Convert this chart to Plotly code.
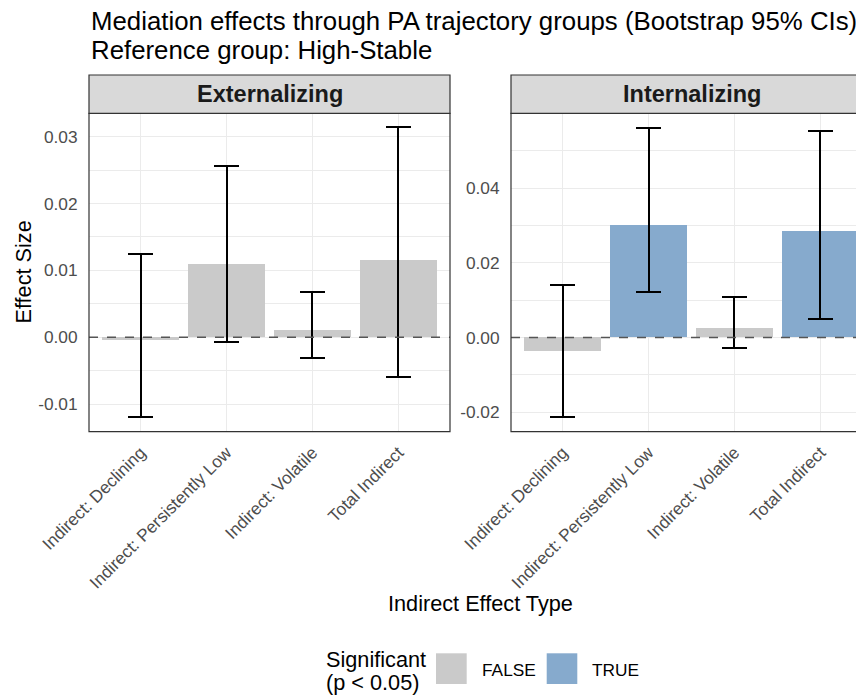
import plotly.graph_objects as go

# ---------------- data ----------------
categories = ["Indirect: Declining", "Indirect: Persistently Low",
              "Indirect: Volatile", "Total Indirect"]
panels = ["Externalizing", "Internalizing"]

ext_effect = [-0.0004, 0.0109, 0.0011, 0.0115]
ext_lower = [-0.0120, -0.0007, -0.0031, -0.0059]
ext_upper = [0.0124, 0.0256, 0.0068, 0.0314]
ext_sig = [False, False, False, False]

int_effect = [-0.0037, 0.0300, 0.0026, 0.0284]
int_lower = [-0.0214, 0.0122, -0.0027, 0.0049]
int_upper = [0.0142, 0.0562, 0.0110, 0.0554]
int_sig = [False, True, False, True]

ext_ticks = [-0.01, 0.0, 0.01, 0.02, 0.03]
ext_ticktext = ["-0.01", "0.00", "0.01", "0.02", "0.03"]
int_ticks = [-0.02, 0.0, 0.02, 0.04]
int_ticktext = ["-0.02", "0.00", "0.02", "0.04"]

title_lines = ["Mediation effects through PA trajectory groups (Bootstrap 95% CIs)",
               "Reference group: High-Stable"]
x_title = "Indirect Effect Type"
y_title = "Effect Size"
legend_title = ["Significant", "(p &lt; 0.05)"]
legend_labels = ["FALSE", "TRUE"]

# ---------------- style ----------------
OFF = 8  # page body margin
W, H = 864 - OFF, 695 - OFF
FONT = "Liberation Sans, Arial, Helvetica, sans-serif"
COL_FALSE = "#CACACA"
COL_TRUE = "#86AACD"
GRID = "#EBEBEB"
BORDER = "#333333"
STRIP_FILL = "#D9D9D9"

def px_x(p):
    return (p - OFF) / W

def px_y(p):
    return 1 - (p - OFF) / H

panel_top, panel_bot = 113.3, 431.7
left_x0, left_x1 = 89.0, 450.0
right_x0 = 511.0
unit = (left_x1 - left_x0) / 4.2
right_x1_full = right_x0 + 4.2 * unit

fig = go.Figure()

def add_panel(effect, lower, upper, sig, xa, ya):
    colors = [COL_TRUE if s else COL_FALSE for s in sig]
    fig.add_trace(go.Bar(
        x=categories, y=effect, width=0.9,
        marker=dict(color=colors, line=dict(width=0)),
        error_y=dict(type="data", symmetric=False,
                     array=[u - e for u, e in zip(upper, effect)],
                     arrayminus=[e - l for e, l in zip(effect, lower)],
                     color="black", thickness=2, width=12.5),
        xaxis=xa, yaxis=ya, showlegend=False, hoverinfo="skip"))

add_panel(ext_effect, ext_lower, ext_upper, ext_sig, "x", "y")
add_panel(int_effect, int_lower, int_upper, int_sig, "x2", "y2")

ydom = [px_y(panel_bot), px_y(panel_top)]
common_x = dict(type="category", showgrid=True, gridcolor=GRID, gridwidth=1.3,
                ticks="outside", ticklen=3, tickcolor="rgba(0,0,0,0)",
                tickangle=-45, zeroline=False, showline=False, automargin=False,
                tickfont=dict(family=FONT, size=17.3, color="#4D4D4D"),
                categoryorder="array", categoryarray=categories)
common_y = dict(showgrid=True, gridcolor=GRID, gridwidth=1.3, zeroline=False,
                showline=False, ticks="outside", ticklen=7, automargin=False,
                tickcolor="rgba(0,0,0,0)", domain=ydom,
                tickfont=dict(family=FONT, size=17.3, color="#4D4D4D"),
                minor=dict(showgrid=True, gridcolor=GRID, gridwidth=0.7))

right_range_end = -0.6 + (864 - right_x0) / unit

fig.update_layout(
    width=W, height=H,
    margin=dict(l=0, r=0, t=0, b=0, pad=0),
    paper_bgcolor="white", plot_bgcolor="white",
    bargap=0,
    xaxis=dict(common_x, domain=[px_x(left_x0), px_x(left_x1)],
               range=[-0.6, 3.6], anchor="y"),
    xaxis2=dict(common_x, domain=[px_x(right_x0), 1.0],
                range=[-0.6, right_range_end], anchor="y2"),
    yaxis=dict(common_y, range=[-0.01414, 0.033503], anchor="x",
               tickvals=ext_ticks, ticktext=ext_ticktext,
               minor_tickvals=[-0.005, 0.005, 0.015, 0.025]),
    yaxis2=dict(common_y, range=[-0.02521, 0.06009], anchor="x2",
                tickvals=int_ticks, ticktext=int_ticktext,
                minor_tickvals=[-0.01, 0.01, 0.03, 0.05]),
    showlegend=False,
)

shapes = []
# zero dashed lines
for xr, yr in [("x domain", "y"), ("x2 domain", "y2")]:
    shapes.append(dict(type="line", xref=xr, yref=yr, x0=0, x1=1, y0=0, y1=0,
                       line=dict(color="#555555", width=1.5, dash="dash"),
                       layer="above"))
# panel borders and strips
for x0, x1 in [(left_x0, left_x1), (right_x0, right_x1_full)]:
    shapes.append(dict(type="rect", xref="paper", yref="paper",
                       x0=px_x(x0), x1=px_x(x1), y0=px_y(panel_bot), y1=px_y(panel_top),
                       line=dict(color=BORDER, width=1.2), fillcolor="rgba(0,0,0,0)",
                       layer="above"))
    shapes.append(dict(type="rect", xref="paper", yref="paper",
                       x0=px_x(x0), x1=px_x(x1), y0=px_y(panel_top), y1=px_y(75.0),
                       line=dict(color=BORDER, width=1.2), fillcolor=STRIP_FILL,
                       layer="above"))

# legend keys
key_y0, key_y1 = 653.3, 684.0
for (kx0, kx1), col in zip([(436.0, 466.7), (546.7, 577.3)], [COL_FALSE, COL_TRUE]):
    shapes.append(dict(type="rect", xref="paper", yref="paper",
                       x0=px_x(kx0), x1=px_x(kx1), y0=px_y(key_y1), y1=px_y(key_y0),
                       line=dict(width=0), fillcolor=col))
fig.update_layout(shapes=shapes)

ann = []
# strip titles
for name, x0, x1 in [(panels[0], left_x0, left_x1), (panels[1], right_x0, right_x1_full)]:
    ann.append(dict(text="<b>" + name + "</b>", xref="paper", yref="paper",
                    x=px_x((x0 + x1) / 2), y=px_y(94.0), xanchor="center", yanchor="middle",
                    showarrow=False, font=dict(family=FONT, size=23.5, color="#1A1A1A")))
# title
for line, yc in zip(title_lines, [21.4, 50.0]):
    ann.append(dict(text=line, xref="paper", yref="paper", x=px_x(89.0), y=px_y(yc),
                    xanchor="left", yanchor="middle", showarrow=False,
                    font=dict(family=FONT, size=25.8, color="black")))
# axis titles
ann.append(dict(text=x_title, xref="paper", yref="paper", x=px_x(480.5), y=px_y(603.0),
                xanchor="center", yanchor="middle", showarrow=False,
                font=dict(family=FONT, size=21.7, color="black")))
ann.append(dict(text=y_title, xref="paper", yref="paper", x=px_x(23.0), y=px_y(272.5),
                xanchor="center", yanchor="middle", showarrow=False, textangle=-90,
                font=dict(family=FONT, size=21.7, color="black")))
# legend title
for line, yc in zip(legend_title, [659.5, 682.0]):
    ann.append(dict(text=line, xref="paper", yref="paper", x=px_x(324.0), y=px_y(yc),
                    xanchor="left", yanchor="middle", showarrow=False,
                    font=dict(family=FONT, size=21.7, color="black")))
for lab, lx in zip(legend_labels, [480.0, 590.0]):
    ann.append(dict(text=lab, xref="paper", yref="paper", x=px_x(lx), y=px_y(670.0),
                    xanchor="left", yanchor="middle", showarrow=False,
                    font=dict(family=FONT, size=17.3, color="black")))
fig.update_layout(annotations=ann)

fig.write_html("out.html")
